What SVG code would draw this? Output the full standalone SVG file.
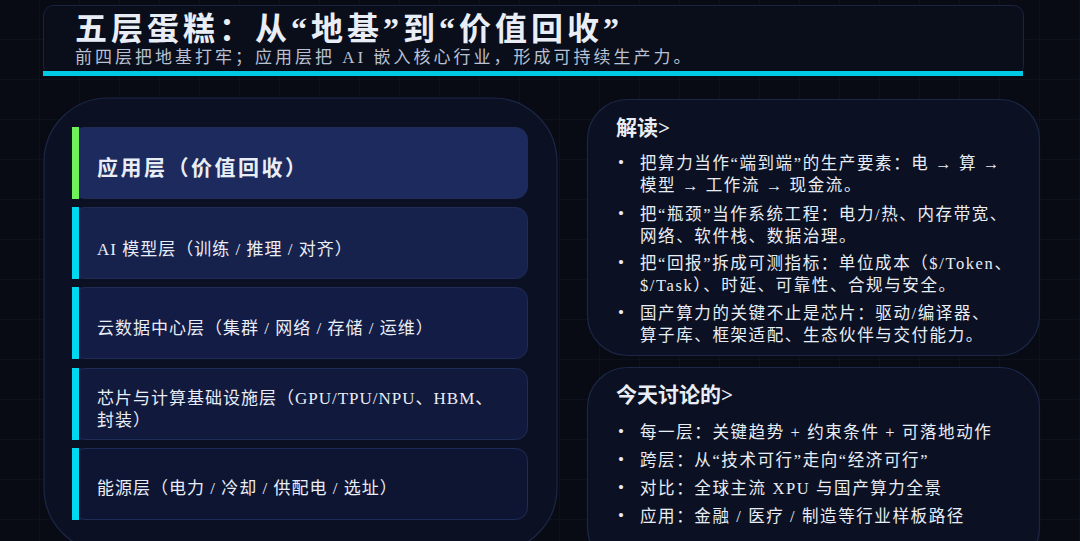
<svg xmlns="http://www.w3.org/2000/svg" width="1080" height="541" viewBox="0 0 1080 541">
<defs>
<pattern id="grid" width="40" height="40" patternUnits="userSpaceOnUse">
<path d="M40 0V40M0 40H40" fill="none" stroke="#0f1524" stroke-width="1"/>
</pattern>
<style>
text{font-family:"Liberation Serif","Noto Sans CJK SC",serif;fill:#e9edf6}
.title{font-size:32px;font-weight:bold;letter-spacing:4px}
.sub{font-size:17px;fill:#b9c1d3;letter-spacing:3px}
.card{stroke:#1f2c58;stroke-width:1}
.lbl{font-size:17px;letter-spacing:1px}
.head{font-size:21px;font-weight:bold}
.b{font-size:16.5px;letter-spacing:1.6px}
.dot{font-size:17px}
.panel{fill:#0b1122;stroke:#1c2748;stroke-width:1.2}
</style>
</defs>
<rect width="1080" height="541" fill="#080b14"/>
<rect width="1080" height="541" fill="url(#grid)"/>

<g id="header">
<rect x="43.5" y="5.5" width="980" height="70" rx="10" fill="#0a0e1b" stroke="#1a2340"/>
<rect x="43" y="71" width="980" height="5" fill="#00c9e4"/>
<text class="title" x="75" y="40">五层蛋糕：从“地基”到“价值回收”</text>
<text class="sub" x="75" y="63">前四层把地基打牢；应用层把 AI 嵌入核心行业，形成可持续生产力。</text>
</g>

<g id="layers-panel">
<rect class="panel" x="44" y="98" width="513" height="454" rx="64" fill="#0c1120"/>
</g>

<g id="layer-app">
<rect class="card" x="72.5" y="127.5" width="455" height="71" rx="12" fill="#1c2a5e"/>
<rect x="72" y="127" width="7" height="72" fill="#6ef05a"/>
<text x="97" y="175" style="font-size:21px;font-weight:bold;letter-spacing:2.5px">应用层（价值回收）</text>
</g>
<g id="layer-model">
<rect class="card" x="72.5" y="207.5" width="455" height="71" rx="12" fill="#16214c"/>
<rect x="72" y="207" width="7" height="72" fill="#00d8f0"/>
<text class="lbl" x="97" y="255">AI 模型层（训练 / 推理 / 对齐）</text>
</g>
<g id="layer-dc">
<rect class="card" x="72.5" y="287.5" width="455" height="71" rx="12" fill="#131c45"/>
<rect x="72" y="287" width="7" height="72" fill="#00d8f0"/>
<text class="lbl" x="97" y="334">云数据中心层（集群 / 网络 / 存储 / 运维）</text>
</g>
<g id="layer-chip">
<rect class="card" x="72.5" y="368.5" width="455" height="71" rx="12" fill="#11193d"/>
<rect x="72" y="368" width="7" height="72" fill="#00d8f0"/>
<text class="lbl" x="97" y="404">芯片与计算基础设施层（GPU/TPU/NPU、HBM、</text>
<text class="lbl" x="97" y="426">封装）</text>
</g>
<g id="layer-energy">
<rect class="card" x="72.5" y="448.5" width="455" height="71" rx="12" fill="#0e1533"/>
<rect x="72" y="448" width="7" height="72" fill="#00d8f0"/>
<text class="lbl" x="97" y="494">能源层（电力 / 冷却 / 供配电 / 选址）</text>
</g>

<g id="insight">
<rect class="panel" x="587.5" y="99.5" width="452" height="256" rx="40"/>
<text class="head" x="616" y="135">解读&gt;</text>
<text class="dot" x="618" y="168">•</text>
<text class="b" x="640" y="169">把算力当作“端到端”的生产要素：电 → 算 →</text>
<text class="b" x="640" y="191">模型 → 工作流 → 现金流。</text>
<text class="dot" x="618" y="219">•</text>
<text class="b" x="640" y="220">把“瓶颈”当作系统工程：电力/热、内存带宽、</text>
<text class="b" x="640" y="242">网络、软件栈、数据治理。</text>
<text class="dot" x="618" y="268">•</text>
<text class="b" x="640" y="269">把“回报”拆成可测指标：单位成本（$/Token、</text>
<text class="b" x="640" y="291">$/Task）、时延、可靠性、合规与安全。</text>
<text class="dot" x="618" y="318">•</text>
<text class="b" x="640" y="319">国产算力的关键不止是芯片：驱动/编译器、</text>
<text class="b" x="640" y="341">算子库、框架适配、生态伙伴与交付能力。</text>
</g>

<g id="today">
<rect class="panel" x="587.5" y="367.5" width="452" height="200" rx="40"/>
<text class="head" x="616" y="402">今天讨论的&gt;</text>
<text class="dot" x="618" y="437">•</text>
<text class="b" x="640" y="438">每一层：关键趋势 + 约束条件 + 可落地动作</text>
<text class="dot" x="618" y="465">•</text>
<text class="b" x="640" y="466">跨层：从“技术可行”走向“经济可行”</text>
<text class="dot" x="618" y="493">•</text>
<text class="b" x="640" y="494">对比：全球主流 XPU 与国产算力全景</text>
<text class="dot" x="618" y="521">•</text>
<text class="b" x="640" y="522">应用：金融 / 医疗 / 制造等行业样板路径</text>
</g>
</svg>
